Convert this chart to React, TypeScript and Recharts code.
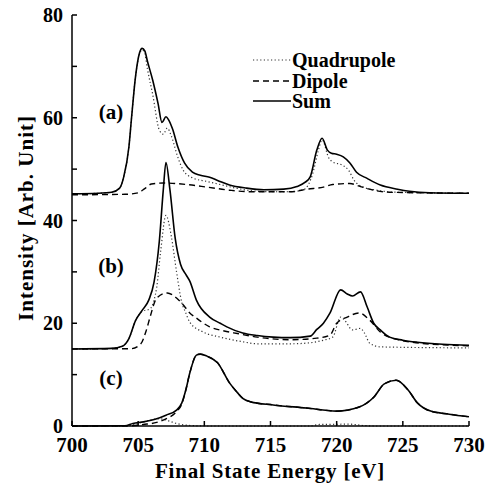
import { LineChart, Line, XAxis, YAxis, Legend } from 'recharts';

// energy [eV], intensity
const sumA = [[700, 45.2], [702, 45.3], [703, 45.5], [703.6, 46.3], [703.9, 48.4], [704.3, 54.3], [704.5, 60], [704.8, 68], [705.1, 72.6], [705.3, 73.5], [705.5, 73], [705.7, 71], [706.1, 67.3], [706.5, 62.8], [706.8, 59.1], [707.1, 60.2], [707.3, 59.6], [707.6, 57.8], [708, 54.3], [708.5, 51.2], [709.1, 49.4], [709.7, 48.8], [710.4, 48.4], [711, 47.8], [711.9, 46.9], [713.2, 46.3], [714.5, 46.0], [716, 46.1], [717, 46.6], [717.6, 47.4], [718, 48.5], [718.5, 53.7], [718.9, 56.0], [719.3, 53.7], [719.6, 53.1], [720, 52.9], [720.5, 52.4], [721, 51.2], [721.5, 49.4], [722.3, 48.2], [723.3, 46.9], [724.6, 46.1], [725.5, 45.7], [727, 45.4], [730, 45.3]];
const quadA = [[700, 45.2], [702, 45.3], [703, 45.5], [703.6, 46.3], [703.9, 48.4], [704.3, 54.3], [704.5, 60], [704.8, 68], [705.1, 72.4], [705.3, 73.2], [705.5, 72.5], [705.7, 69.5], [706.1, 64.5], [706.6, 57.6], [706.9, 56.8], [707.2, 58], [707.5, 56.5], [708, 52.3], [708.4, 49.8], [709.1, 48.3], [710.2, 47.6], [711.2, 47], [712.2, 46.4], [713.5, 45.8], [715, 45.6], [716.5, 45.6], [717.5, 46.0], [718.2, 49.2], [718.6, 53.5], [718.9, 55.7], [719.4, 52.2], [719.7, 51.4], [720.4, 50.8], [720.9, 49.8], [721.3, 47.9], [722, 46.5], [723, 45.9], [724.5, 45.5], [730, 45.3]];
const dipA = [[700, 45], [704, 45.1], [705, 45.4], [705.5, 46.2], [706, 47.1], [706.9, 47.3], [708.7, 47.0], [710.2, 46.5], [711.9, 45.9], [713.5, 45.6], [716.5, 45.6], [717.8, 46.1], [719, 46.5], [719.7, 47], [721, 47.2], [721.8, 46.6], [722.8, 45.9], [724, 45.5], [730, 45.3]];

const sumB = [[700, 15], [703, 15.1], [703.8, 15.5], [704.3, 17], [704.8, 20.5], [705.3, 22.5], [705.8, 24.5], [706.2, 28], [706.6, 36], [706.9, 46], [707.1, 51.3], [707.4, 46], [707.8, 36.5], [708.2, 31.5], [708.6, 29.5], [708.9, 28.2], [709.4, 24.5], [710.4, 21.2], [711.2, 20], [711.7, 19.3], [712.9, 18.1], [714, 17.6], [715.2, 17.3], [716.5, 17.2], [718, 17.5], [718.5, 18.8], [719, 20], [719.5, 22], [720.3, 26.5], [720.8, 25.7], [721.2, 25.3], [721.8, 26.1], [722.3, 23.2], [722.8, 20], [723.3, 18.7], [724, 17.3], [725, 16.7], [726.1, 16.3], [728, 15.9], [730, 15.7]];
const quadB = [[700, 15], [703, 15.1], [703.8, 15.5], [704.3, 17], [704.8, 20.5], [705.3, 22.3], [705.9, 22.8], [706.2, 24.5], [706.4, 27], [706.7, 34], [707.1, 41], [707.5, 37], [707.9, 30], [708.3, 24], [708.6, 22], [708.9, 20.2], [709.9, 18.3], [711.2, 17.3], [712.9, 16.4], [714, 16.0], [716.5, 16], [718, 16.2], [719, 16.7], [719.7, 17.3], [720.3, 21.2], [720.6, 20.6], [721.2, 18.7], [721.8, 19], [722.1, 18.1], [722.5, 16.1], [723.3, 15.4], [730, 15.2]];
const dipB = [[700, 15], [704.5, 15.05], [705.2, 16], [705.6, 18.5], [705.9, 21.2], [706.4, 24.9], [707.2, 25.9], [707.6, 25.5], [707.9, 24.9], [708.3, 23.9], [708.9, 22], [709.4, 21], [710.4, 19.3], [711.5, 18.5], [712.5, 18], [714, 17.3], [716.5, 16.8], [718.5, 17.1], [719.5, 17.7], [720, 20], [720.8, 21.2], [721.7, 22], [722.5, 20.6], [723.3, 18.3], [724.8, 16.7], [726, 16.2], [728, 15.8], [730, 15.6]];

const sumC = [[700, 0], [704, 0.05], [704.6, 0.5], [705.4, 0.8], [706.4, 1.4], [707.1, 2.1], [707.9, 3.1], [708.3, 4.5], [708.6, 7], [708.9, 10.3], [709.4, 13.8], [709.7, 14], [710.2, 13.6], [711, 12.3], [711.9, 8.4], [712.5, 6.5], [712.9, 5.4], [713.5, 4.7], [715.2, 4.1], [717.7, 3.5], [720, 2.9], [721.7, 3.7], [722.8, 5.6], [723.6, 8.2], [724.5, 8.9], [725.4, 7], [726.1, 4.5], [727.1, 2.9], [728.5, 2.3], [730, 1.8]];
const quadC = [[700, 0], [704, 0], [704.6, 0.2], [705.4, 0.8], [706.6, 1.4], [707.3, 1], [707.9, 0.5], [708.7, 0.15], [710, 0], [718, 0], [718.7, 0.3], [721, 0.35], [722, 0.1], [723, 0], [730, 0]];
const dipC = [[700, 0], [704.5, 0.05], [705.4, 0.3], [706.4, 0.7], [707.1, 1.4], [707.9, 2.8], [708.3, 4.3], [708.6, 7], [708.9, 10.3], [709.4, 13.8], [709.7, 14], [710.2, 13.6], [711, 12.3], [711.9, 8.4], [712.5, 6.5], [712.9, 5.4], [713.5, 4.7], [715.2, 4.1], [717.7, 3.5], [720, 2.9], [721.7, 3.7], [722.8, 5.6], [723.6, 8.2], [724.5, 8.9], [725.4, 7], [726.1, 4.5], [727.1, 2.9], [728.5, 2.3], [730, 1.8]];

const xTicks = [700, 705, 710, 715, 720, 725, 730];
const yTicks = [0, 10, 20, 30, 40, 50, 60, 70, 80];
const panelLabels = [{ text: '(a)', top: 112 }, { text: '(b)', top: 266 }, { text: '(c)', top: 378 }];

const pts = (a: number[][]) => a.map(([x, y]) => ({ x, y }));

const font = "'Liberation Serif', 'Times New Roman', serif";
const styles: Record<string, any> = {
  Quadrupole: { stroke: '#333', strokeWidth: 1.2, strokeDasharray: '1.2 2.4' },
  Dipole: { stroke: '#000', strokeWidth: 1.4, strokeDasharray: '6 4' },
  Sum: { stroke: '#000', strokeWidth: 1.6 },
};

function LegendBox({ payload }: any) {
  const order = ['Quadrupole', 'Dipole', 'Sum'];
  const items = order.filter((n) => (payload || []).some((p: any) => p.value === n));
  return (
    <div style={{ fontFamily: font, fontWeight: 700, fontSize: 20, color: '#000' }}>
      {items.map((name) => (
        <div key={name} style={{ display: 'flex', alignItems: 'center', height: 20.5 }}>
          <svg width={38} height={10}>
            <line x1={0} x2={38} y1={5} y2={5} {...styles[name]} />
          </svg>
          <span style={{ marginLeft: 1, lineHeight: '20px' }}>{name}</span>
        </div>
      ))}
    </div>
  );
}

export default function App() {
  const tickStyle = { fill: '#000', fontFamily: font, fontWeight: 700 };
  return (
    <div style={{ position: 'absolute', left: 0, top: 0, width: 495, height: 485, background: '#fff' }}>
      <LineChart width={495} height={485} margin={{ top: 15, right: 26, bottom: 0, left: 0 }}>
        <XAxis dataKey="x" type="number" domain={[700, 730]} ticks={xTicks} allowDataOverflow
          height={59} tickSize={-5} tickMargin={16} stroke="#000" strokeWidth={1.5}
          tick={{ ...tickStyle, fontSize: 21 }} />
        <XAxis xAxisId="top" orientation="top" type="number" domain={[700, 730]} ticks={xTicks}
          height={0} tickSize={-5} tick={false} stroke="#000" strokeWidth={1.5} />
        <YAxis type="number" domain={[0, 80]} ticks={yTicks} width={72} tickSize={-5} tickMargin={14}
          stroke="#000" strokeWidth={1.5} tick={{ ...tickStyle, fontSize: 20 }}
          tickFormatter={(v: number) => (v % 20 === 0 ? String(v) : '')} />
        <YAxis yAxisId="right" orientation="right" type="number" domain={[0, 80]} ticks={yTicks}
          width={0} tickSize={-5} tick={false} stroke="#000" strokeWidth={1.5} />
        <Legend content={<LegendBox />} layout="vertical" align="center" verticalAlign="middle"
          wrapperStyle={{ left: 253, top: 50, width: 'auto', height: 'auto' }} />

        <Line data={pts(quadA)} dataKey="y" name="Quadrupole" type="monotone" dot={false} isAnimationActive={false} {...styles.Quadrupole} />
        <Line data={pts(dipA)} dataKey="y" name="Dipole" type="monotone" dot={false} isAnimationActive={false} {...styles.Dipole} />
        <Line data={pts(sumA)} dataKey="y" name="Sum" type="monotone" dot={false} isAnimationActive={false} {...styles.Sum} />

        <Line data={pts(quadB)} dataKey="y" name="quadB" legendType="none" type="monotone" dot={false} isAnimationActive={false} {...styles.Quadrupole} />
        <Line data={pts(dipB)} dataKey="y" name="dipB" legendType="none" type="monotone" dot={false} isAnimationActive={false} {...styles.Dipole} />
        <Line data={pts(sumB)} dataKey="y" name="sumB" legendType="none" type="monotone" dot={false} isAnimationActive={false} {...styles.Sum} />

        <Line data={pts(quadC)} dataKey="y" name="quadC" legendType="none" type="monotone" dot={false} isAnimationActive={false} {...styles.Quadrupole} />
        <Line data={pts(dipC)} dataKey="y" name="dipC" legendType="none" type="monotone" dot={false} isAnimationActive={false} {...styles.Dipole} />
        <Line data={pts(sumC)} dataKey="y" name="sumC" legendType="none" type="monotone" dot={false} isAnimationActive={false} {...styles.Sum} />
      </LineChart>

      <svg width={495} height={485} style={{ position: 'absolute', left: 0, top: 0, pointerEvents: 'none' }}>
        <g fontFamily={font} fontWeight={700} fill="#000">
          {panelLabels.map((p) => (
            <text key={p.text} x={111} y={p.top} fontSize={21} textAnchor="middle" dominantBaseline="central">{p.text}</text>
          ))}
          <text x={270} y={478} fontSize={21} letterSpacing={0.8} textAnchor="middle">Final State Energy [eV]</text>
          <text x={33} y={218} fontSize={21} letterSpacing={1} textAnchor="middle" transform="rotate(-90 33 218)">Intensity [Arb. Unit]</text>
        </g>
      </svg>
    </div>
  );
}
